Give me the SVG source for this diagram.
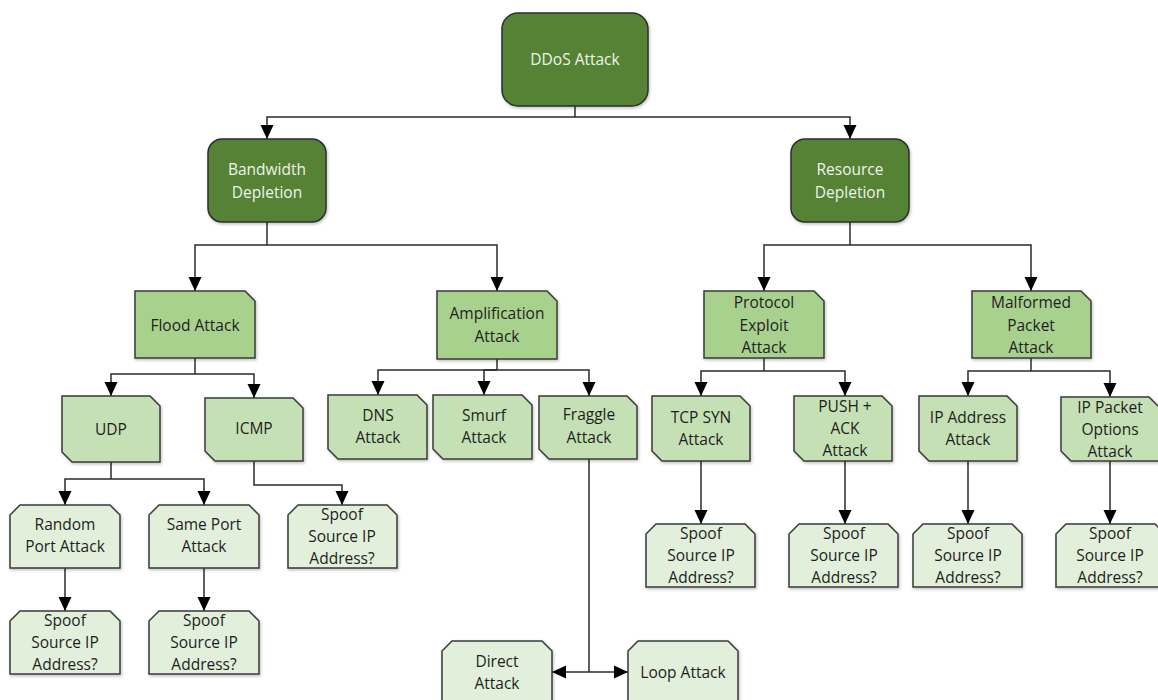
<svg xmlns="http://www.w3.org/2000/svg" width="1158" height="700" viewBox="0 0 1158 700">
  <style>
    .root { fill: #548235; stroke: #2f2f2f; stroke-width: 1.5; }
    .l3 { fill: #a9d18e; stroke: #3a3a3a; stroke-width: 1.5; }
    .l4 { fill: #c5e0b4; stroke: #3a3a3a; stroke-width: 1.5; }
    .l5 { fill: #e2efda; stroke: #3a3a3a; stroke-width: 1.5; }
    .shape { filter: url(#shadow); }
    text { font-family: "Open Sans", "Noto Sans", sans-serif; font-size: 15.5px; text-anchor: middle; fill: #1e1e1e; }
    text.light { fill: #eef4ea; }
    .conn path { fill: none; stroke: #2b2b2b; stroke-width: 1.5; }
    .conn path.arrow { marker-end: url(#arrow); }
  </style>
  <defs>
    <marker id="arrow" markerUnits="userSpaceOnUse" viewBox="0 0 14 14" refX="14" refY="7" markerWidth="14" markerHeight="14" orient="auto">
      <path d="M0,0.5 L14,7 L0,13.5 z" fill="#000"/>
    </marker>
    <filter id="shadow" x="-10%" y="-10%" width="125%" height="130%">
      <feDropShadow dx="1" dy="1.5" stdDeviation="1.5" flood-color="#000" flood-opacity="0.25"/>
    </filter>
  </defs>

  <rect width="1158" height="700" fill="#ffffff"/>

  <!-- connectors -->
  <g id="connectors" class="conn">
    <path d="M575,106 V117"/>
    <path class="arrow" d="M575,117 H267 V139"/>
    <path class="arrow" d="M575,117 H850 V139"/>

    <path d="M267,222 V245"/>
    <path class="arrow" d="M267,245 H195 V291"/>
    <path class="arrow" d="M267,245 H497 V291"/>

    <path d="M850,222 V245"/>
    <path class="arrow" d="M850,245 H764 V291"/>
    <path class="arrow" d="M850,245 H1031 V291"/>

    <path d="M195,358 V374"/>
    <path class="arrow" d="M195,374 H111 V396"/>
    <path class="arrow" d="M195,374 H254 V398"/>

    <path d="M497,359 V370"/>
    <path class="arrow" d="M497,370 H378 V395"/>
    <path class="arrow" d="M497,370 H484 V395"/>
    <path class="arrow" d="M497,370 H589 V396"/>

    <path d="M764,358 V371"/>
    <path class="arrow" d="M764,371 H701 V396"/>
    <path class="arrow" d="M764,371 H845 V396"/>

    <path d="M1031,358 V371"/>
    <path class="arrow" d="M1031,371 H968 V396"/>
    <path class="arrow" d="M1031,371 H1110 V397"/>

    <path d="M111,462 V479"/>
    <path class="arrow" d="M111,479 H65 V505"/>
    <path class="arrow" d="M111,479 H204 V505"/>

    <path class="arrow" d="M254,461 V485 H342 V505"/>

    <path class="arrow" d="M65,568 V611"/>
    <path class="arrow" d="M204,568 V611"/>

    <path class="arrow" d="M701,461 V524"/>
    <path class="arrow" d="M845,461 V524"/>
    <path class="arrow" d="M968,461 V524"/>
    <path class="arrow" d="M1110,461 V524"/>

    <path d="M589,459 V672"/>
    <path class="arrow" d="M589,672 H552"/>
    <path class="arrow" d="M589,672 H628"/>
  </g>

  <!-- top level -->
  <g id="ddos">
    <rect class="root shape" x="502" y="13" width="146" height="93" rx="16"/>
    <text class="light" x="575" y="65">DDoS Attack</text>
  </g>

  <g id="bandwidth">
    <rect class="root shape" x="208" y="139" width="118" height="83" rx="14"/>
    <text class="light" x="267" y="175">Bandwidth</text>
    <text class="light" x="267" y="198">Depletion</text>
  </g>

  <g id="resource">
    <rect class="root shape" x="791" y="139" width="118" height="83" rx="14"/>
    <text class="light" x="850" y="175">Resource</text>
    <text class="light" x="850" y="198">Depletion</text>
  </g>

  <!-- attack classes -->
  <g id="flood">
    <polygon class="l3 shape" points="135,291 245,291 255,301 255,358 135,358"/>
    <text x="195" y="331">Flood Attack</text>
  </g>

  <g id="amplification">
    <polygon class="l3 shape" points="437,291 547,291 557,301 557,359 437,359"/>
    <text x="497" y="319">Amplification</text>
    <text x="497" y="342">Attack</text>
  </g>

  <g id="protocol">
    <polygon class="l3 shape" points="704,291 814,291 824,301 824,358 704,358"/>
    <text x="764" y="308">Protocol</text>
    <text x="764" y="331">Exploit</text>
    <text x="764" y="353">Attack</text>
  </g>

  <g id="malformed">
    <polygon class="l3 shape" points="972,291 1081,291 1091,301 1091,358 972,358"/>
    <text x="1031" y="308">Malformed</text>
    <text x="1031" y="331">Packet</text>
    <text x="1031" y="353">Attack</text>
  </g>

  <!-- attack types -->
  <g id="udp">
    <polygon class="l4 shape" points="62,396 150,396 160,406 160,462 72,462 62,452"/>
    <text x="111" y="435">UDP</text>
  </g>

  <g id="icmp">
    <polygon class="l4 shape" points="205,398 293,398 303,408 303,461 215,461 205,451"/>
    <text x="254" y="434">ICMP</text>
  </g>

  <g id="dns">
    <polygon class="l4 shape" points="328,395 417,395 427,405 427,459 338,459 328,449"/>
    <text x="378" y="421">DNS</text>
    <text x="378" y="443">Attack</text>
  </g>

  <g id="smurf">
    <polygon class="l4 shape" points="433,395 522,395 532,405 532,459 443,459 433,449"/>
    <text x="484" y="421">Smurf</text>
    <text x="484" y="443">Attack</text>
  </g>

  <g id="fraggle">
    <polygon class="l4 shape" points="539,396 627,396 637,406 637,459 549,459 539,449"/>
    <text x="589" y="420">Fraggle</text>
    <text x="589" y="443">Attack</text>
  </g>

  <g id="tcp-syn">
    <polygon class="l4 shape" points="652,396 740,396 750,406 750,461 662,461 652,451"/>
    <text x="701" y="423">TCP SYN</text>
    <text x="701" y="445">Attack</text>
  </g>

  <g id="push-ack">
    <polygon class="l4 shape" points="794,396 882,396 892,406 892,461 804,461 794,451"/>
    <text x="845" y="412">PUSH +</text>
    <text x="845" y="434">ACK</text>
    <text x="845" y="456">Attack</text>
  </g>

  <g id="ip-address">
    <polygon class="l4 shape" points="919,396 1007,396 1017,406 1017,461 929,461 919,451"/>
    <text x="968" y="423">IP Address</text>
    <text x="968" y="445">Attack</text>
  </g>

  <g id="ip-options">
    <polygon class="l4 shape" points="1061,397 1149,397 1159,407 1159,461 1071,461 1061,451"/>
    <text x="1110" y="413">IP Packet</text>
    <text x="1110" y="435">Options</text>
    <text x="1110" y="457">Attack</text>
  </g>

  <!-- leaf variants -->
  <g id="random-port">
    <polygon class="l5 shape" points="20,505 110,505 120,515 120,568 10,568 10,515"/>
    <text x="65" y="530">Random</text>
    <text x="65" y="552">Port Attack</text>
  </g>

  <g id="same-port">
    <polygon class="l5 shape" points="159,505 249,505 259,515 259,568 149,568 149,515"/>
    <text x="204" y="530">Same Port</text>
    <text x="204" y="552">Attack</text>
  </g>

  <g id="spoof-icmp">
    <polygon class="l5 shape" points="298,505 387,505 397,515 397,568 288,568 288,515"/>
    <text x="342" y="520">Spoof</text>
    <text x="342" y="542">Source IP</text>
    <text x="342" y="564">Address?</text>
  </g>

  <g id="spoof-random">
    <polygon class="l5 shape" points="20,611 110,611 120,621 120,674 10,674 10,621"/>
    <text x="65" y="626">Spoof</text>
    <text x="65" y="648">Source IP</text>
    <text x="65" y="670">Address?</text>
  </g>

  <g id="spoof-same">
    <polygon class="l5 shape" points="159,611 249,611 259,621 259,674 149,674 149,621"/>
    <text x="204" y="626">Spoof</text>
    <text x="204" y="648">Source IP</text>
    <text x="204" y="670">Address?</text>
  </g>

  <g id="spoof-tcp">
    <polygon class="l5 shape" points="656,524 745,524 755,534 755,587 646,587 646,534"/>
    <text x="701" y="539">Spoof</text>
    <text x="701" y="561">Source IP</text>
    <text x="701" y="583">Address?</text>
  </g>

  <g id="spoof-push">
    <polygon class="l5 shape" points="799,524 888,524 898,534 898,587 789,587 789,534"/>
    <text x="844" y="539">Spoof</text>
    <text x="844" y="561">Source IP</text>
    <text x="844" y="583">Address?</text>
  </g>

  <g id="spoof-ipaddr">
    <polygon class="l5 shape" points="923,524 1012,524 1022,534 1022,587 913,587 913,534"/>
    <text x="968" y="539">Spoof</text>
    <text x="968" y="561">Source IP</text>
    <text x="968" y="583">Address?</text>
  </g>

  <g id="spoof-ipopt">
    <polygon class="l5 shape" points="1066,524 1155,524 1165,534 1165,587 1056,587 1056,534"/>
    <text x="1110" y="539">Spoof</text>
    <text x="1110" y="561">Source IP</text>
    <text x="1110" y="583">Address?</text>
  </g>

  <g id="direct">
    <polygon class="l5 shape" points="452,641 542,641 552,651 552,712 442,712 442,651"/>
    <text x="497" y="667">Direct</text>
    <text x="497" y="689">Attack</text>
  </g>

  <g id="loop">
    <polygon class="l5 shape" points="638,641 728,641 738,651 738,712 628,712 628,651"/>
    <text x="683" y="678">Loop Attack</text>
  </g>
</svg>
